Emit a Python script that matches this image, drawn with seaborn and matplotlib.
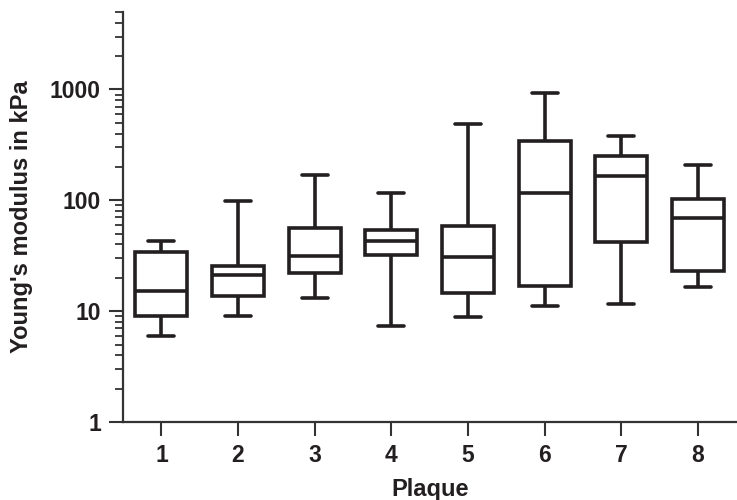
import numpy as np
import pandas as pd
import matplotlib
matplotlib.use("Agg")
import matplotlib.pyplot as plt
import seaborn as sns
from matplotlib.ticker import LogLocator, FixedLocator, FixedFormatter, NullFormatter

# Box statistics (kPa)
plaques = ['1', '2', '3', '4', '5', '6', '7', '8']
whisker_low = [6.0, 9.1, 13.1, 7.4, 8.9, 11.1, 11.7, 16.5]
q1 = [9.1, 13.7, 22.3, 32.0, 14.7, 16.9, 42.0, 22.8]
median = [15.3, 21.2, 31.6, 43.0, 31.0, 117.0, 165.0, 68.6]
q3 = [34.0, 25.7, 56.0, 54.0, 59.0, 344.0, 251.0, 102.0]
whisker_high = [42.7, 98.8, 169.0, 117.0, 484.0, 927.0, 382.0, 208.0]

# five-number rows per plaque -> quartiles land exactly on these values
rows = []
for i, p in enumerate(plaques):
    for v in (whisker_low[i], q1[i], median[i], q3[i], whisker_high[i]):
        rows.append({'Plaque': p, 'E': v})
df = pd.DataFrame(rows)

sns.set_style("ticks")
plt.rcParams['font.family'] = ['Liberation Sans', 'DejaVu Sans']
plt.rcParams['font.weight'] = 'bold'

ink = '#231f20'
fig = plt.figure(figsize=(7.37, 5.0), dpi=100)
ax = fig.add_axes([0.167, 0.156, 0.832, 0.82])

lw = 2.6
sns.boxplot(data=df, x='Plaque', y='E', order=plaques, ax=ax,
            width=0.68, whis=np.inf, log_scale=True, fill=True, color='white',
            linecolor=ink, linewidth=lw,
            boxprops=dict(facecolor='white', edgecolor=ink, linewidth=lw),
            medianprops=dict(color=ink, linewidth=lw),
            whiskerprops=dict(color=ink, linewidth=lw),
            capprops=dict(color=ink, linewidth=lw))

ax.set_ylim(1, 5000)
ax.set_xlim(-0.5, 7.5)
ax.yaxis.set_major_locator(FixedLocator([1, 10, 100, 1000]))
ax.yaxis.set_major_formatter(FixedFormatter(['1', '10', '100', '1000']))
ax.yaxis.set_minor_locator(LogLocator(base=10, subs=np.arange(2, 10), numticks=20))
ax.yaxis.set_minor_formatter(NullFormatter())

for s in ['top', 'right']:
    ax.spines[s].set_visible(False)
for s in ['left', 'bottom']:
    ax.spines[s].set_linewidth(1.6)
    ax.spines[s].set_color('#333333')

ax.tick_params(axis='both', which='major', length=10, width=1.5, color='#333333',
               labelsize=16.5, labelcolor=ink, pad=6)
ax.tick_params(axis='y', which='minor', length=6, width=1.3, color='#333333')

ax.set_xlabel('Plaque', fontsize=17, fontweight='bold', color=ink, labelpad=8)
ax.set_ylabel("Young's modulus in kPa", fontsize=17, fontweight='bold', color=ink, labelpad=12)
for lab in ax.get_xticklabels() + ax.get_yticklabels():
    lab.set_fontweight('bold')

fig.savefig('out.png', dpi=100)
